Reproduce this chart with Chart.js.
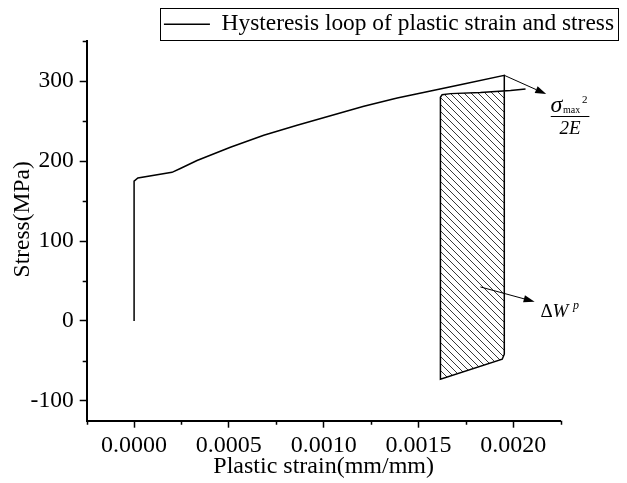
<!DOCTYPE html>
<html>
<head>
<meta charset="utf-8">
<title>Hysteresis loop</title>
<script src="https://cdn.jsdelivr.net/npm/chart.js@4.4.0/dist/chart.umd.min.js"></script>
<style>
  html, body { margin: 0; padding: 0; background: #fff; }
  #mainChart { display: block; }
</style>
</head>
<body>
<canvas id="mainChart" width="627" height="483"></canvas>
<script>
// --- Data ---
const SERIES_LABEL = 'Hysteresis loop of plastic strain and stress';

// full path: elastic part, plastic loading, unloading, reverse flow, reloading
const loopStrain = [0, 0, 0.00002, 0.0002, 0.000244, 0.000332, 0.000508, 0.000684, 0.00086,
  0.001036, 0.001212, 0.001388, 0.001564, 0.001739, 0.001953, 0.001953, 0.001942,
  0.001616, 0.001616, 0.001625, 0.00167, 0.001827, 0.001986, 0.002065];
const loopStress = [0, 175, 179, 186, 190.8, 200.8, 217.5, 232.5, 245,
  257, 268.7, 279, 288, 296.7, 307.5, -41.7, -48,
  -73, 280, 283.3, 284.6, 286, 288.4, 290.4];

// hatched region (plastic work per cycle)
const areaStrain = [0.001616, 0.001616, 0.001625, 0.00167, 0.001827, 0.001953, 0.001953, 0.001942];
const areaStress = [-73, 280, 283.3, 284.6, 286, 287.9, -41.7, -48];

const xTicks = [0, 0.0005, 0.001, 0.0015, 0.002];
const xMinorTicks = [-0.00025, 0.00025, 0.00075, 0.00125, 0.00175, 0.00225];
const yTicks = [-100, 0, 100, 200, 300];
const yMinorTicks = [-50, 50, 150, 250, 350];

// --- Config ---
const FONT = "'Liberation Serif', 'Times New Roman', serif";
const INK = '#000';

// arrows for the two callouts, in data units
const ARROWS = [
  { from: [0.001953, 307.5], to: [0.002174, 284] },
  { from: [0.001827, 42.5], to: [0.002113, 24] }
];

function toPoints(xs, ys) {
  return xs.map((x, i) => ({ x: x, y: ys[i] }));
}

function makeHatch() {
  const c = document.createElement('canvas');
  c.width = 7; c.height = 7;
  const g = c.getContext('2d');
  g.strokeStyle = '#222';
  g.lineWidth = 0.9;
  g.beginPath();
  g.moveTo(-1, -1); g.lineTo(8, 8);
  g.moveTo(-1, 6); g.lineTo(1, 8);
  g.moveTo(6, -1); g.lineTo(8, 1);
  g.stroke();
  return g.createPattern(c, 'repeat');
}

// short minor ticks, drawn through the scales
const minorTicks = {
  id: 'minorTicks',
  afterDraw(chart) {
    const { ctx, chartArea, scales } = chart;
    ctx.save();
    ctx.strokeStyle = INK;
    ctx.lineWidth = 1.5;
    ctx.beginPath();
    xMinorTicks.forEach(v => {
      const px = Math.round(scales.x.getPixelForValue(v)) + 0.5;
      ctx.moveTo(px, chartArea.bottom);
      ctx.lineTo(px, chartArea.bottom + 4);
    });
    yMinorTicks.forEach(v => {
      const py = Math.round(scales.y.getPixelForValue(v)) + 0.5;
      ctx.moveTo(chartArea.left, py);
      ctx.lineTo(chartArea.left - 4, py);
    });
    ctx.stroke();
    ctx.restore();
  }
};

// nudge legend down a little and frame it
const legendFrame = {
  id: 'legendFrame',
  afterLayout(chart) {
    chart.legend.top += 4.5;
    chart.legend.bottom += 4.5;
  },
  afterDraw(chart) {
    const box = chart.legend.legendHitBoxes[0];
    if (!box) return;
    const ctx = chart.ctx;
    ctx.save();
    ctx.strokeStyle = INK;
    ctx.lineWidth = 1;
    ctx.strokeRect(Math.round(box.left - 4) + 0.5, Math.round(box.top - 4.5) + 0.5,
      Math.round(box.width + 8), Math.round(box.height + 8.5));
    ctx.restore();
  }
};

function arrow(ctx, x1, y1, x2, y2) {
  const ang = Math.atan2(y2 - y1, x2 - x1);
  const len = 11, half = 3.6;
  const bx = x2 - Math.cos(ang) * len, by = y2 - Math.sin(ang) * len;
  ctx.beginPath();
  ctx.moveTo(x1, y1);
  ctx.lineTo(bx, by);
  ctx.stroke();
  ctx.beginPath();
  ctx.moveTo(x2, y2);
  ctx.lineTo(bx + Math.sin(ang) * half, by - Math.cos(ang) * half);
  ctx.lineTo(bx - Math.sin(ang) * half, by + Math.cos(ang) * half);
  ctx.closePath();
  ctx.fill();
}

// callouts: sigma_max^2 / 2E and delta W^p
const callouts = {
  id: 'callouts',
  afterDraw(chart) {
    const { ctx, scales } = chart;
    const X = v => scales.x.getPixelForValue(v);
    const Y = v => scales.y.getPixelForValue(v);
    ctx.save();
    ctx.strokeStyle = INK;
    ctx.fillStyle = INK;
    ctx.lineWidth = 1;
    ARROWS.forEach(a => arrow(ctx, X(a.from[0]), Y(a.from[1]), X(a.to[0]), Y(a.to[1])));

    // fraction
    let px = X(0.0023), py = Y(256.5);
    ctx.textBaseline = 'alphabetic';
    ctx.textAlign = 'left';
    ctx.font = 'italic 24px ' + FONT;
    ctx.fillText('σ', px - 19.5, py - 4.5);
    ctx.font = '10px ' + FONT;
    ctx.fillText('max', px - 7, py - 3.5);
    ctx.font = '11px ' + FONT;
    ctx.fillText('2', px + 12, py - 13);
    ctx.beginPath();
    ctx.moveTo(px - 19.3, Math.round(py) + 0.5);
    ctx.lineTo(px + 19.3, Math.round(py) + 0.5);
    ctx.stroke();
    ctx.textAlign = 'center';
    ctx.font = 'italic 19px ' + FONT;
    ctx.fillText('2E', px, py + 17.6);

    // delta W^p
    px = X(0.002144); py = Y(5);
    ctx.textAlign = 'left';
    ctx.font = '19px ' + FONT;
    ctx.fillText('Δ', px, py);
    ctx.font = 'italic 19px ' + FONT;
    ctx.fillText('W', px + 12, py);
    ctx.font = 'italic 12px ' + FONT;
    ctx.fillText('p', px + 32.5, py - 8);
    ctx.restore();
  }
};

function axisFont(size) {
  return { family: FONT, size: size || 23.5 };
}

const ctx = document.getElementById('mainChart').getContext('2d');
const chart = new Chart(ctx, {
  type: 'scatter',
  data: {
    datasets: [
      {
        label: SERIES_LABEL,
        data: toPoints(loopStrain, loopStress),
        showLine: true,
        borderColor: INK,
        borderWidth: 1.5,
        pointRadius: 0,
        tension: 0,
        fill: false
      },
      {
        label: 'area',
        data: toPoints(areaStrain, areaStress),
        showLine: true,
        borderWidth: 0,
        borderColor: 'rgba(0,0,0,0)',
        backgroundColor: makeHatch(),
        pointRadius: 0,
        tension: 0,
        fill: 'shape'
      }
    ]
  },
  options: {
    responsive: false,
    animation: false,
    devicePixelRatio: 1,
    layout: { padding: { top: 8, right: 13, bottom: 0, left: 0 } },
    plugins: {
      tooltip: { enabled: false },
      legend: {
        display: true,
        position: 'top',
        align: 'end',
        labels: {
          filter: item => item.datasetIndex === 0,
          usePointStyle: true,
          pointStyle: 'line',
          pointStyleWidth: 46,
          padding: 0,
          color: INK,
          font: axisFont(23.4)
        }
      }
    },
    scales: {
      x: {
        type: 'linear',
        min: -0.00025,
        max: 0.00225,
        afterBuildTicks: s => { s.ticks = xTicks.map(v => ({ value: v })); },
        afterFit: s => { s.height = 62.3; },
        border: { display: true, color: INK, width: 2 },
        grid: { drawOnChartArea: false, drawTicks: true, tickLength: 7, tickWidth: 1.5, tickColor: INK },
        ticks: { color: INK, font: axisFont(24), padding: 4, maxRotation: 0, callback: v => v.toFixed(4) },
        title: { display: true, text: 'Plastic strain(mm/mm)', color: INK, font: axisFont(24), padding: { top: 0, bottom: 2 } }
      },
      y: {
        type: 'linear',
        position: 'left',
        min: -125,
        max: 350,
        afterBuildTicks: s => { s.ticks = yTicks.map(v => ({ value: v })); },
        afterFit: s => { s.width = 86.7; },
        border: { display: true, color: INK, width: 2 },
        grid: { drawOnChartArea: false, drawTicks: true, tickLength: 7, tickWidth: 1.5, tickColor: INK },
        ticks: { color: INK, font: axisFont(23.5), padding: 6, callback: v => String(v) },
        title: { display: true, text: '    Stress(MPa)', color: INK, font: axisFont(23.5), padding: { top: 9, bottom: 0 } }
      },
      y2: {
        type: 'linear',
        position: 'right',
        display: true,
        afterFit: s => { s.width = 53.4; },
        border: { display: false },
        grid: { display: false },
        ticks: { display: false }
      }
    }
  },
  plugins: [minorTicks, legendFrame, callouts]
});
</script>
</body>
</html>
